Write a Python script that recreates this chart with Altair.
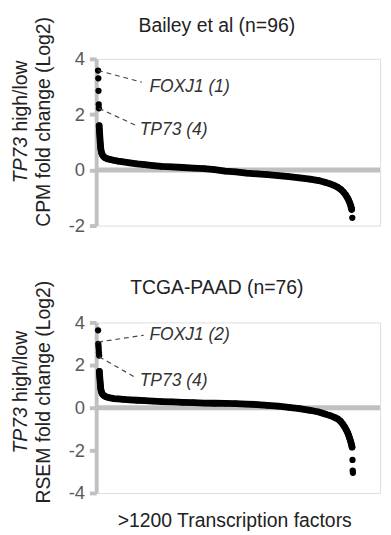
import altair as alt
import pandas as pd

FONT = "Liberation Sans"

# ---------------- data: Bailey et al (n=96) ----------------
bailey_out_rank = [1, 2, 3, 4, 5]
bailey_out_val = [3.58, 3.30, 2.85, 2.36, 2.22]
bailey_rank = [6, 7, 8, 9, 10, 11, 12, 13, 14, 16, 18, 21, 25, 30, 37, 46, 58, 75, 95, 120,
               150, 185, 220, 260, 300, 350, 400, 450, 500, 550, 600, 650, 700, 750, 800, 850,
               900, 950, 1000, 1040, 1070, 1095, 1115, 1130, 1145, 1158, 1168, 1176, 1182,
               1187, 1191, 1194, 1196]
bailey_val = [1.60, 1.48, 1.36, 1.24, 1.12, 1.00, 0.90, 0.82, 0.75, 0.67, 0.60, 0.55, 0.50,
              0.46, 0.43, 0.40, 0.38, 0.35, 0.32, 0.29, 0.26, 0.22, 0.19, 0.16, 0.13, 0.11,
              0.09, 0.07, 0.05, 0.01, -0.04, -0.07, -0.11, -0.14, -0.17, -0.20, -0.24, -0.28,
              -0.33, -0.38, -0.44, -0.50, -0.56, -0.62, -0.70, -0.80, -0.90, -1.00, -1.09,
              -1.18, -1.27, -1.35, -1.42]
bailey_tail_rank = [1199]
bailey_tail_val = [-1.72]
bailey_labels = ["FOXJ1 (1)", "TP73 (4)"]
bailey_label_rank = [243, 197]
bailey_label_val = [2.99, 1.42]
bailey_lead_rank = [1, 5]
bailey_lead_val = [3.58, 2.22]
bailey_lead_rank2 = [207, 184]
bailey_lead_val2 = [3.16, 1.59]

# ---------------- data: TCGA-PAAD (n=76) ----------------
tcga_out_rank = [1, 2, 3, 4, 5, 6]
tcga_out_val = [3.63, 3.00, 2.88, 2.75, 2.60, 2.45]
tcga_rank = [7, 8, 9, 10, 11, 12, 13, 14, 16, 18, 21, 25, 30, 37, 46, 58, 75, 95, 120, 150,
             185, 220, 260, 300, 350, 400, 450, 500, 550, 600, 650, 700, 750, 800, 850, 900,
             950, 1000, 1040, 1070, 1095, 1115, 1130, 1143, 1155, 1164, 1171, 1177, 1182,
             1186, 1190, 1193, 1196, 1198]
tcga_val = [1.70, 1.55, 1.42, 1.30, 1.18, 1.06, 0.95, 0.86, 0.78, 0.71, 0.65, 0.60, 0.56,
            0.52, 0.49, 0.46, 0.43, 0.41, 0.39, 0.37, 0.35, 0.33, 0.31, 0.29, 0.27, 0.25,
            0.24, 0.22, 0.21, 0.20, 0.19, 0.17, 0.15, 0.11, 0.07, 0.02, -0.04, -0.12, -0.20,
            -0.29, -0.37, -0.45, -0.52, -0.63, -0.78, -0.92, -1.05, -1.17, -1.30, -1.42,
            -1.54, -1.65, -1.76, -1.85]
tcga_tail_rank = [1200, 1201, 1202]
tcga_tail_val = [-2.45, -2.95, -3.05]
tcga_labels = ["FOXJ1 (2)", "TP73 (4)"]
tcga_label_rank = [243, 197]
tcga_label_val = [3.40, 1.24]
tcga_lead_rank = [1, 6]
tcga_lead_val = [3.08, 2.39]
tcga_lead_rank2 = [216, 184]
tcga_lead_val2 = [3.40, 1.38]

GRAY = "#c0c0c0"
W = 293
FS = 20


def panel(title, ytitle2, dom, ticks, height, out_r, out_v, cur_r, cur_v, tail_r, tail_v,
          labels, lab_r, lab_v, l_r, l_v, l_r2, l_v2, ycenter, title_y, xtitle=None):
    xs = alt.Scale(domain=[-8, 1330], nice=False, zero=False)
    ys = alt.Scale(domain=dom, nice=False, zero=False)
    yaxis = alt.Axis(values=ticks, title=None, grid=False, domainColor=GRAY, domainWidth=4,
                     tickColor=GRAY, tickWidth=4, tickSize=7, labelFontSize=19,
                     labelColor="#595959", labelFont=FONT, labelPadding=5,
                     labelExpr="datum.value < 0 ? '-' + abs(datum.value) : datum.label")

    zero = alt.Chart(pd.DataFrame({"z": [0]})).mark_rule(color=GRAY, strokeWidth=5).encode(
        y=alt.Y("z:Q", scale=ys, axis=yaxis))
    curve = alt.Chart(pd.DataFrame({"rank": cur_r, "val": cur_v})).mark_line(
        color="black", strokeWidth=7, strokeCap="round", strokeJoin="round").encode(
        x=alt.X("rank:Q", scale=xs, axis=None), y=alt.Y("val:Q", scale=ys))
    pts = alt.Chart(pd.DataFrame({"rank": out_r + cur_r + tail_r,
                                  "val": out_v + cur_v + tail_v})).mark_circle(
        color="black", size=42, opacity=1).encode(
        x=alt.X("rank:Q", scale=xs), y=alt.Y("val:Q", scale=ys))
    leads = alt.Chart(pd.DataFrame({"r": l_r, "v": l_v, "r2": l_r2, "v2": l_v2})).mark_rule(
        color="#444", strokeWidth=1.2, strokeDash=[5, 4]).encode(
        x=alt.X("r:Q", scale=xs), y=alt.Y("v:Q", scale=ys), x2="r2:Q", y2="v2:Q")
    labs = alt.Chart(pd.DataFrame({"r": lab_r, "v": lab_v, "t": labels})).mark_text(
        align="left", baseline="middle", font=FONT, fontSize=18, fontStyle="italic",
        color="#333").encode(
        x=alt.X("r:Q", scale=xs), y=alt.Y("v:Q", scale=ys), text="t:N")
    one = pd.DataFrame({"a": [0]})
    anchor = ycenter + 15.5
    t1a = alt.Chart(one).mark_text(angle=270, align="right", baseline="middle", font=FONT,
                                   fontSize=FS, fontStyle="italic", color="#222").encode(
        x=alt.value(-77), y=alt.value(anchor), text=alt.value("TP73"))
    t1b = alt.Chart(one).mark_text(angle=270, align="left", baseline="middle", font=FONT,
                                   fontSize=FS, color="#222").encode(
        x=alt.value(-77), y=alt.value(anchor - 5.5), text=alt.value("high/low"))
    t2 = alt.Chart(one).mark_text(angle=270, align="center", baseline="middle", font=FONT,
                                  fontSize=FS, color="#222").encode(
        x=alt.value(-54), y=alt.value(ycenter), text=alt.value(ytitle2))
    ttl = alt.Chart(one).mark_text(align="center", baseline="middle", font=FONT,
                                   fontSize=FS, color="#222").encode(
        x=alt.value(124.5), y=alt.value(title_y), text=alt.value(title))
    layers = [zero, curve, pts, leads, labs, t1a, t1b, t2, ttl]
    if xtitle:
        layers.append(alt.Chart(one).mark_text(align="center", baseline="middle", font=FONT,
                                               fontSize=FS, color="#222").encode(
            x=alt.value(143), y=alt.value(205), text=alt.value(xtitle)))
    return alt.layer(*layers).properties(width=W, height=height)


top = panel("Bailey et al (n=96)", "CPM fold change (Log2)", [-2, 4], [4, 2, 0, -2], 172,
            bailey_out_rank, bailey_out_val, bailey_rank, bailey_val,
            bailey_tail_rank, bailey_tail_val, bailey_labels, bailey_label_rank,
            bailey_label_val, bailey_lead_rank, bailey_lead_val, bailey_lead_rank2,
            bailey_lead_val2, 65, -33.5)
bottom = panel("TCGA-PAAD (n=76)", "RSEM fold change (Log2)", [-4, 4], [4, 2, 0, -2, -4], 176,
               tcga_out_rank, tcga_out_val, tcga_rank, tcga_val,
               tcga_tail_rank, tcga_tail_val, tcga_labels, tcga_label_rank,
               tcga_label_val, tcga_lead_rank, tcga_lead_val, tcga_lead_rank2,
               tcga_lead_val2, 72, -35, xtitle=">1200 Transcription factors")

chart = alt.vconcat(top, bottom, spacing=43).configure_view(stroke=None).configure(
    padding={"left": 3, "top": 0, "right": 0, "bottom": 0})
chart.save("out.html", embed_options={"renderer": "svg", "actions": False})
